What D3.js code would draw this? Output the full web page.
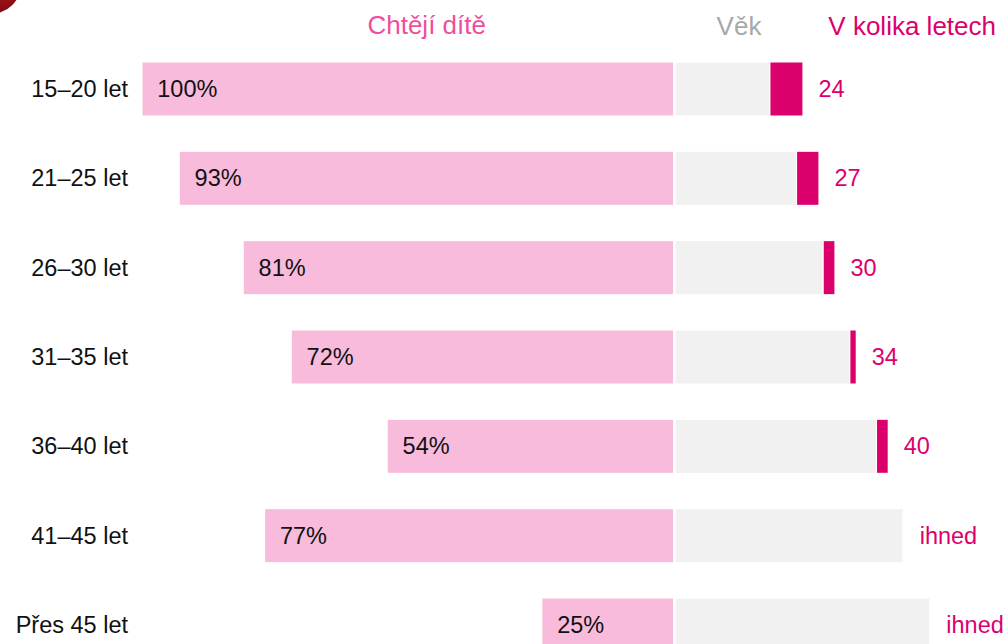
<!DOCTYPE html>
<html>
<head>
<meta charset="utf-8">
<script src="https://cdn.jsdelivr.net/npm/d3@7/dist/d3.min.js"></script>
<style>
  html, body { margin: 0; padding: 0; background: #fff; }
  svg { display: block; }
  text { font-family: "Liberation Sans", Arial, sans-serif; }
</style>
</head>
<body>
<svg id="chart" width="1007" height="644"></svg>
<script>
// Age groups and survey answers
const categories = ["15–20 let", "21–25 let", "26–30 let", "31–35 let", "36–40 let", "41–45 let", "Přes 45 let"];
// Share who want a child (%)
const wantChild = [100, 93, 81, 72, 54, 77, 25];
// Current age (years)
const ageNow = [18, 23, 28, 33, 38, 43, 48];
// Age at which they want the child (null = right away)
const targetAge = [24, 27, 30, 34, 40, null, null];
const targetLabels = ["24", "27", "30", "34", "40", "ihned", "ihned"];
const headers = { left: "Chtějí dítě", age: "Věk", target: "V kolika letech" };

const rows = categories.map((c, i) => ({
  cat: c, want: wantChild[i], age: ageNow[i], target: targetAge[i], label: targetLabels[i]
}));

const svg = d3.select("#chart");
const mid = 674.5;

const y = d3.scaleBand()
  .domain(categories)
  .range([44.33, 669.65])
  .paddingInner(0.38)
  .paddingOuter(0.19);

const xLeft = d3.scaleLinear().domain([0, 100]).range([mid, 141.3]);
const xRight = d3.scaleLinear().domain([0, 50]).range([mid, mid + 266.5]);

const pink = "#f9bbdc", gray = "#f1f1f1", magenta = "#dc006c";
const labelSize = 23.5, headerSize = 26;

// decorative corner mark
const grad = svg.append("defs").append("radialGradient").attr("id", "corner")
  .attr("cx", "70%").attr("cy", "70%").attr("r", "60%");
grad.append("stop").attr("offset", "0%").attr("stop-color", "#a3141a");
grad.append("stop").attr("offset", "100%").attr("stop-color", "#5e0004");
svg.append("circle").attr("cx", -10).attr("cy", -18).attr("r", 32).attr("fill", "url(#corner)");

// headers
svg.append("text").attr("x", 426.7).attr("y", 34).attr("text-anchor", "middle")
  .attr("font-size", headerSize).attr("fill", "#ef4e9c").text(headers.left);
svg.append("text").attr("x", 739).attr("y", 35).attr("text-anchor", "middle")
  .attr("font-size", headerSize).attr("fill", "#a8a8a8").text(headers.age);
svg.append("text").attr("x", 996).attr("y", 35).attr("text-anchor", "end")
  .attr("font-size", headerSize).attr("fill", magenta).text(headers.target);

const g = svg.append("g");
const row = g.selectAll("g.row").data(rows).join("g").attr("class", "row");

// left bars: share wanting a child
row.append("rect")
  .attr("x", d => xLeft(d.want))
  .attr("y", d => y(d.cat))
  .attr("width", d => mid - xLeft(d.want))
  .attr("height", y.bandwidth())
  .attr("fill", pink).attr("stroke", "#fff").attr("stroke-width", 2.4);

// right bars: current age
row.append("rect")
  .attr("x", mid)
  .attr("y", d => y(d.cat))
  .attr("width", d => xRight(d.age) - mid)
  .attr("height", y.bandwidth())
  .attr("fill", gray).attr("stroke", "#fff").attr("stroke-width", 2.4);

// years until the wanted child
row.filter(d => d.target != null).append("rect")
  .attr("x", d => xRight(d.age))
  .attr("y", d => y(d.cat) + 1.2)
  .attr("width", d => xRight(d.target) - xRight(d.age))
  .attr("height", y.bandwidth() - 2.4)
  .attr("fill", magenta);

const cy = d => y(d.cat) + y.bandwidth() / 2;

// category labels
row.append("text")
  .attr("x", 128).attr("y", d => cy(d) + 8)
  .attr("text-anchor", "end").attr("font-size", labelSize).attr("fill", "#111")
  .text(d => d.cat);

// percent labels
row.append("text")
  .attr("x", d => xLeft(d.want) + 16).attr("y", d => cy(d) + 8)
  .attr("font-size", labelSize).attr("fill", "#111")
  .text(d => d.want + "%");

// target labels
row.append("text")
  .attr("x", d => xRight(d.target != null ? d.target : d.age) + 16)
  .attr("y", d => cy(d) + 8)
  .attr("font-size", labelSize).attr("fill", magenta)
  .text(d => d.label);
</script>
</body>
</html>
